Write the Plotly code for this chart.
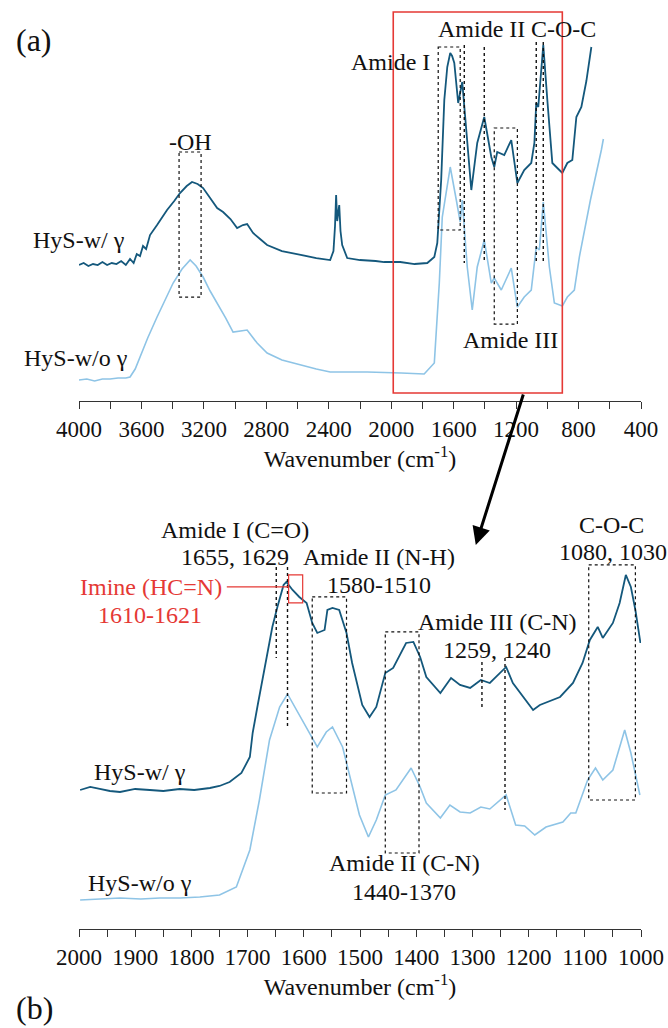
import plotly.graph_objects as go

# ---------------- data: (a) full spectra ----------------
full_dark_wn = [4000, 3970, 3940, 3910, 3880, 3850, 3820, 3790, 3760, 3730, 3700, 3673, 3650, 3630,
                3609, 3590, 3570, 3545, 3500, 3436, 3390, 3353, 3310, 3276, 3240, 3205, 3160, 3115,
                3077, 3030, 2987, 2950, 2923, 2885, 2840, 2795, 2700, 2583, 2480, 2391, 2370, 2360,
                2353, 2346, 2340, 2333, 2325, 2314, 2282, 2200, 2100, 2045, 1942, 1850, 1769, 1724,
                1705, 1680, 1660, 1641, 1622, 1610, 1596, 1571, 1545, 1519, 1487, 1449, 1404, 1359,
                1340, 1321, 1276, 1231, 1199, 1192, 1148, 1103, 1083, 1071, 1058, 1026, 1000, 968,
                936, 904, 872, 840, 814, 782, 750, 718]
full_dark_abs = [1.36, 1.38, 1.35, 1.37, 1.36, 1.39, 1.36, 1.38, 1.37, 1.40, 1.36, 1.42, 1.38, 1.47,
                 1.45, 1.55, 1.52, 1.66, 1.76, 1.91, 2.00, 2.08, 2.15, 2.19, 2.17, 2.13, 2.03, 1.93,
                 1.89, 1.82, 1.73, 1.76, 1.77, 1.68, 1.62, 1.56, 1.50, 1.46, 1.43, 1.41, 1.50, 1.75,
                 2.06, 1.80, 1.86, 1.96, 1.70, 1.56, 1.43, 1.41, 1.40, 1.39, 1.39, 1.37, 1.38, 1.44,
                 1.58, 2.21, 3.01, 3.34, 3.48, 3.45, 3.38, 2.98, 3.19, 2.71, 2.11, 2.58, 2.84, 2.44,
                 2.34, 2.49, 2.46, 2.61, 2.28, 2.18, 2.31, 2.38, 2.58, 2.98, 2.94, 3.56, 3.01, 2.38,
                 2.33, 2.28, 2.38, 2.41, 2.84, 2.94, 3.20, 3.54]

full_light_wn = [4000, 3950, 3900, 3850, 3801, 3750, 3700, 3673, 3640, 3609, 3560, 3500, 3450, 3397,
                 3340, 3288, 3250, 3205, 3160, 3115, 3060, 3013, 2970, 2923, 2859, 2795, 2700, 2583,
                 2480, 2391, 2154, 1936, 1789, 1724, 1692, 1673, 1622, 1583, 1558, 1545, 1513, 1481,
                 1449, 1404, 1359, 1340, 1295, 1231, 1192, 1148, 1103, 1071, 1051, 1026, 987, 955,
                 904, 872, 827, 795, 724, 654, 641]
full_light_abs = [0.21, 0.22, 0.20, 0.22, 0.22, 0.23, 0.23, 0.24, 0.32, 0.44, 0.63, 0.84, 1.00, 1.18,
                  1.32, 1.41, 1.35, 1.24, 1.10, 0.98, 0.83, 0.69, 0.70, 0.71, 0.58, 0.48, 0.41, 0.36,
                  0.32, 0.29, 0.29, 0.28, 0.27, 0.38, 1.18, 1.84, 2.34, 2.01, 1.79, 2.01, 1.34, 0.91,
                  1.34, 1.61, 1.18, 1.23, 1.11, 1.33, 0.94, 1.04, 1.11, 1.54, 1.51, 1.99, 1.34, 0.98,
                  0.95, 1.04, 1.11, 1.44, 2.01, 2.51, 2.62]

# ---------------- data: (b) 2000-1000 cm-1 ----------------
zoom_dark_wn = [1998, 1980, 1963, 1945, 1927, 1900, 1874, 1850, 1821, 1795, 1767, 1750, 1732, 1711,
                1696, 1691, 1682, 1666, 1656, 1647, 1636, 1631, 1620, 1608, 1595, 1585, 1576, 1563,
                1558, 1549, 1537, 1524, 1514, 1496, 1483, 1471, 1455, 1441, 1418, 1405, 1393, 1382,
                1357, 1338, 1322, 1304, 1285, 1269, 1251, 1240, 1228, 1215, 1205, 1192, 1180, 1157,
                1144, 1121, 1104, 1091, 1077, 1068, 1050, 1038, 1027, 1018, 1010, 1001]
zoom_dark_abs = [1.39, 1.42, 1.40, 1.38, 1.37, 1.40, 1.39, 1.38, 1.40, 1.39, 1.41, 1.43, 1.47, 1.56,
                 1.72, 1.96, 2.24, 2.72, 3.02, 3.22, 3.44, 3.47, 3.39, 3.32, 3.26, 3.06, 2.96, 2.99,
                 3.19, 3.21, 3.19, 2.96, 2.66, 2.24, 2.12, 2.22, 2.56, 2.61, 2.86, 2.87, 2.72, 2.52,
                 2.36, 2.51, 2.44, 2.41, 2.49, 2.46, 2.56, 2.62, 2.46, 2.36, 2.29, 2.19, 2.24, 2.29,
                 2.32, 2.46, 2.66, 2.89, 3.02, 2.91, 3.06, 3.26, 3.54, 3.42, 3.19, 2.86]

zoom_light_wn = [1998, 1960, 1927, 1890, 1856, 1820, 1785, 1750, 1720, 1696, 1679, 1661, 1643, 1629,
                 1620, 1595, 1576, 1560, 1549, 1531, 1514, 1501, 1485, 1471, 1455, 1436, 1409, 1393,
                 1382, 1357, 1340, 1322, 1304, 1285, 1269, 1240, 1223, 1207, 1189, 1169, 1139, 1125,
                 1116, 1095, 1081, 1068, 1050, 1029, 1018, 1002]
zoom_light_abs = [0.29, 0.30, 0.31, 0.30, 0.31, 0.31, 0.32, 0.34, 0.42, 0.79, 1.29, 1.89, 2.22, 2.35,
                  2.26, 2.02, 1.82, 1.97, 2.02, 1.82, 1.42, 1.14, 0.92, 1.09, 1.34, 1.39, 1.61, 1.42,
                  1.26, 1.11, 1.24, 1.17, 1.16, 1.22, 1.20, 1.34, 1.04, 1.03, 0.94, 1.02, 1.07, 1.16,
                  1.16, 1.49, 1.61, 1.49, 1.59, 1.99, 1.76, 1.34]

series_names = ["HyS-w/ γ", "HyS-w/o γ"]
full_ticks = [4000, 3600, 3200, 2800, 2400, 2000, 1600, 1200, 800, 400]
zoom_ticks = [2000, 1900, 1800, 1700, 1600, 1500, 1400, 1300, 1200, 1100, 1000]

DARK = "#14587c"
LIGHT = "#8ec4e6"
RED = "#e53935"
FONT = "'Liberation Serif', 'Times New Roman', Times, serif"

fig = go.Figure()
fig.add_trace(go.Scatter(x=full_dark_wn, y=full_dark_abs, mode="lines", name=series_names[0],
                         line=dict(color=DARK, width=1.8), xaxis="x", yaxis="y"))
fig.add_trace(go.Scatter(x=full_light_wn, y=full_light_abs, mode="lines", name=series_names[1],
                         line=dict(color=LIGHT, width=1.6), xaxis="x", yaxis="y"))
fig.add_trace(go.Scatter(x=zoom_dark_wn, y=zoom_dark_abs, mode="lines", name=series_names[0],
                         line=dict(color=DARK, width=1.8), xaxis="x2", yaxis="y2"))
fig.add_trace(go.Scatter(x=zoom_light_wn, y=zoom_light_abs, mode="lines", name=series_names[1],
                         line=dict(color=LIGHT, width=1.6), xaxis="x2", yaxis="y2"))

axis_common = dict(showline=True, linecolor="#333", linewidth=1, ticks="outside", ticklen=7,
                   tickcolor="#333", showgrid=False, zeroline=False,
                   tickfont=dict(family=FONT, size=23, color="#111"), automargin=False)

fig.update_layout(
    width=668, height=1028, showlegend=False,
    paper_bgcolor="white", plot_bgcolor="white",
    margin=dict(l=79, r=27, t=10, b=99),
    font=dict(family=FONT, size=23, color="#111"),
    xaxis=dict(domain=[0, 1], anchor="y", range=[4000, 400], tickmode="array", tickvals=full_ticks,
               minor=dict(dtick=200, ticks="outside", ticklen=7, tickcolor="#333"),
               title=dict(text="Wavenumber (cm<sup>-1</sup>)", standoff=4,
                          font=dict(family=FONT, size=24, color="#111")),
               **axis_common),
    yaxis=dict(domain=[0.5745, 1], anchor="x", range=[0, 3.91], visible=False),
    xaxis2=dict(domain=[0, 1], anchor="y2", range=[2000, 1000], tickmode="array", tickvals=zoom_ticks,
                minor=dict(dtick=50, ticks="outside", ticklen=7, tickcolor="#333"),
                title=dict(text="Wavenumber (cm<sup>-1</sup>)", standoff=4,
                           font=dict(family=FONT, size=24, color="#111")),
                **axis_common),
    yaxis2=dict(domain=[0, 0.4995], anchor="x2", range=[0, 4.59], visible=False),
)

shapes = []
def dbox(xr, yr, x0, x1, y0, y1):
    shapes.append(dict(type="rect", xref=xr, yref=yr, x0=x0, x1=x1, y0=y0, y1=y1,
                       line=dict(color="#111", width=1.2, dash="dot"), fillcolor="rgba(0,0,0,0)"))
def dline(xr, yr, x, y0, y1):
    shapes.append(dict(type="line", xref=xr, yref=yr, x0=x, x1=x, y0=y0, y1=y1,
                       line=dict(color="#111", width=1.4, dash="dot")))

# (a) annotations
dbox("x", "y", 3359, 3218, 2.49, 1.04)
dbox("x", "y", 1699, 1558, 3.54, 1.71)
dline("x", "y", 1532, 3.56, 1.38)
dline("x", "y", 1404, 3.54, 1.38)
dbox("x", "y", 1340, 1192, 2.73, 0.77)
dline("x", "y", 1071, 3.59, 1.38)
dline("x", "y", 1026, 3.59, 1.38)
shapes.append(dict(type="rect", xref="x", yref="y", x0=1987, x1=904, y0=3.89, y1=0.08,
                   line=dict(color=RED, width=1.6), fillcolor="rgba(0,0,0,0)"))

# (b) annotations
dline("x2", "y2", 1649, 3.62, 2.71)
dline("x2", "y2", 1629, 3.62, 2.00)
shapes.append(dict(type="rect", xref="x2", yref="y2", x0=1627, x1=1602, y0=3.54, y1=3.26,
                   line=dict(color=RED, width=1.2), fillcolor="rgba(0,0,0,0)"))
shapes.append(dict(type="line", xref="x2", yref="y2", x0=1737, x1=1627, y0=3.42, y1=3.42,
                   line=dict(color=RED, width=1.2)))
dbox("x2", "y2", 1585, 1524, 3.32, 1.36)
dbox("x2", "y2", 1455, 1395, 2.97, 0.76)
dline("x2", "y2", 1283, 2.67, 2.21)
dline("x2", "y2", 1242, 2.71, 1.19)
dbox("x2", "y2", 1093, 1010, 3.64, 1.29)
fig.update_layout(shapes=shapes)

ann = []
def txt(xr, yr, x, y, s, color="#111", size=24, xanchor="center"):
    ann.append(dict(xref=xr, yref=yr, x=x, y=y, text=s, showarrow=False, xanchor=xanchor,
                    yanchor="middle", font=dict(family=FONT, size=size, color=color)))

txt("x", "y", 3288, 2.59, "-OH")
txt("x", "y", 2006, 3.39, "Amide I")
txt("x", "y", 1423, 3.72, "Amide II")
txt("x", "y", 897, 3.72, "C-O-C")
txt("x", "y", 1237, 0.61, "Amide III")
txt("x", "y", 3690, 1.61, series_names[0], xanchor="right")
txt("x", "y", 3673, 0.43, series_names[1], xanchor="right")
txt("paper", "paper", -0.115, 0.967, "(a)", size=32, xanchor="left")

txt("x2", "y2", 1723, 3.99, "Amide I (C=O)")
txt("x2", "y2", 1723, 3.72, "1655, 1629")
txt("x2", "y2", 1872, 3.42, "Imine (HC=N)", color=RED)
txt("x2", "y2", 1874, 3.14, "1610-1621", color=RED)
txt("x2", "y2", 1466, 3.72, "Amide II (N-H)")
txt("x2", "y2", 1467, 3.44, "1580-1510")
txt("x2", "y2", 1256, 3.07, "Amide III (C-N)")
txt("x2", "y2", 1256, 2.79, "1259, 1240")
txt("x2", "y2", 1052, 4.04, "C-O-C")
txt("x2", "y2", 1050, 3.77, "1080, 1030")
txt("x2", "y2", 1421, 0.66, "Amide II (C-N)")
txt("x2", "y2", 1421, 0.37, "1440-1370")
txt("x2", "y2", 1892, 1.57, series_names[0])
txt("x2", "y2", 1892, 0.46, series_names[1])
txt("paper", "paper", -0.115, -0.086, "(b)", size=32, xanchor="left")

ann.append(dict(xref="x2", yref="y2", x=1294, y=3.84, ax=48, ay=-152, axref="pixel", ayref="pixel",
                showarrow=True, arrowhead=2, arrowsize=1.2, arrowwidth=3, arrowcolor="#000", text=""))
fig.update_layout(annotations=ann)

fig.write_html("out.html")
